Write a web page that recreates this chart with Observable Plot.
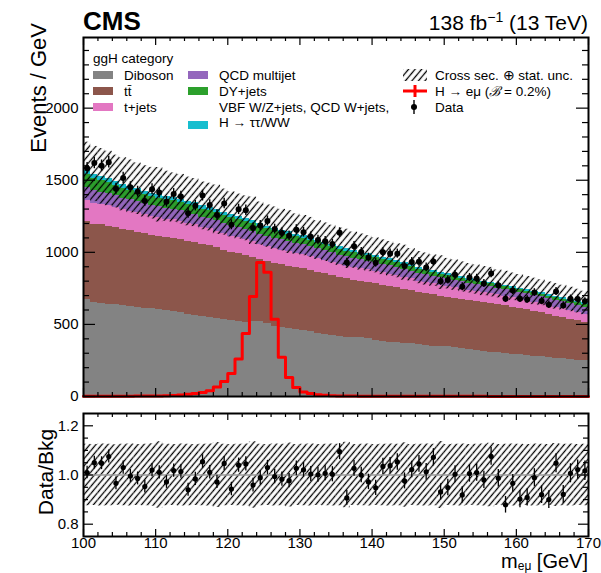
<!DOCTYPE html>
<html><head><meta charset="utf-8">
<script src="https://cdn.jsdelivr.net/npm/d3@7"></script>
<script src="https://cdn.jsdelivr.net/npm/@observablehq/plot@0.6"></script>
<style>
body{margin:0;background:#fff;}
#chart{position:relative;width:601px;height:573px;}
#chart svg{display:block;}
</style></head><body><div id="chart"></div>
<script>
// ---------------- data ----------------
const massBins = [100,101,102,103,104,105,106,107,108,109,110,111,112,113,114,115,116,117,118,119,
  120,121,122,123,124,125,126,127,128,129,130,131,132,133,134,135,136,137,138,139,
  140,141,142,143,144,145,146,147,148,149,150,151,152,153,154,155,156,157,158,159,
  160,161,162,163,164,165,166,167,168,169];
const binWidth = 1;
const diboson = [671,655,645,640,636,632,625,618,612,612, 600,596,588,582,572,562,555,548,540,532,
  524,522,516,518,520,505,486,478,470,462, 455,448,438,430,422,415,412,410,406,402,
  388,384,378,374,370,366,360,354,350,348, 344,338,330,324,316,312,308,302,298,292,
  290,285,280,275,270,266,262,256,250,247];
const ttbar = [541,540,545,540,534,525,525,522,516,508, 512,509,510,506,506,508,498,497,490,483,
  476,468,462,447,430,430,439,437,435,433, 430,427,424,420,416,410,403,398,394,390,
  394,388,387,381,375,369,360,358,355,347, 346,344,342,341,342,338,337,334,330,328,
  322,315,310,305,298,290,286,279,275,265];
const tjets = [146,144,141,142,138,137,134,133,131,129, 128,126,127,123,121,120,118,117,114,113,
  112,110,109,108,106,104,103,101,100,99, 98,97,95,94,93,92,90,90,88,87,
  86,85,84,83,82,80,79,79,77,76, 76,75,74,73,72,71,70,69,68,67,
  66,65,64,64,63,62,61,60,59,58];
const qcd = [92,90,87,85,83,81,80,78,77,76, 75,75,74,76,74,75,73,74,75,74,
  74,73,74,72,71,72,70,70,69,68, 68,67,67,66,65,64,63,62,61,60,
  60,59,58,57,56,55,54,53,52,51, 50,50,49,48,48,47,47,46,46,45,
  45,46,46,47,47,48,48,49,49,50];
const dyjets = [90,86,82,78,74,71,68,65,63,61, 60,59,58,58,57,57,56,56,55,55,
  55,54,54,53,52,51,50,49,48,47, 47,46,44,43,42,41,40,39,38,37,
  36,35,34,32,31,30,28,27,26,25, 24,23,22,22,21,20,20,19,19,18,
  18,18,18,18,18,18,18,18,18,18];
const otherBkg = [28,28,27,27,26,26,25,25,24,24, 24,24,23,23,23,23,22,22,22,22,
  22,21,21,21,20,20,20,19,19,18, 18,18,17,17,17,16,16,16,15,15,
  15,15,14,14,14,13,13,13,13,12, 12,12,12,12,12,12,11,11,11,11,
  11,11,11,11,11,11,11,11,11,11];
const signal = [1,1,1,1,2,2,2,3,3,4, 4,5,7,10,15,21,28,40,66,104,
  160,260,437,694,930,862,535,272,132,62, 32,20,12,8,6,4,3,3,2,2,
  2,2,1,1,1,1,1,1,1,1, 1,1,1,1,1,1,0,0,0,0,
  0,0,0,0,0,0,0,0,0,0];
const dataRatio = [1.010,1.050,1.048,1.075,0.966,1.030,0.996,0.986,0.953,1.020,
  1.011,0.972,1.018,1.014,0.940,0.984,1.054,1.011,0.972,1.047,
  0.943,1.040,1.045,0.959,0.989,1.030,0.994,0.983,0.977,1.027,
  1.021,1.004,1.001,1.007,1.003,1.095,0.907,1.027,1.000,0.972,
  0.948,1.035,1.038,1.053,0.976,1.022,1.045,1.013,1.072,0.931,
  0.949,1.003,0.919,1.006,1.010,0.980,1.076,0.987,0.879,0.966,
  0.902,0.909,0.989,0.920,0.900,1.048,0.921,1.007,1.022,1.017];
const relUnc = [0.125,0.124,0.126,0.125,0.123,0.125,0.126,0.124,0.125,0.127,
  0.135,0.125,0.124,0.126,0.125,0.124,0.125,0.126,0.132,0.125,
  0.124,0.125,0.126,0.135,0.125,0.124,0.126,0.125,0.130,0.124,
  0.125,0.126,0.124,0.125,0.126,0.125,0.133,0.124,0.125,0.126,
  0.124,0.125,0.126,0.125,0.131,0.124,0.125,0.126,0.125,0.136,
  0.124,0.125,0.126,0.124,0.125,0.126,0.129,0.124,0.125,0.126,
  0.125,0.124,0.126,0.125,0.124,0.128,0.125,0.126,0.124,0.125];
const compKeys = ["Diboson","tt̄","t+jets","QCD multijet","DY+jets","Other"];
const compColors = ["#838383","#8c564b","#e377c2","#9467bd","#2ca02c","#17becf"];
const xMajor = [100,110,120,130,140,150,160,170];
const yMajor = [0,500,1000,1500,2000];
const rMajor = [0.8,1.0,1.2];

// ---------------- derived tables ----------------
const compValues = [diboson, ttbar, tjets, qcd, dyjets, otherBkg];
const stackRows = [], bandRows = [], dataRows = [], ratioRows = [], ratioBand = [];
const total = massBins.map((lo, i) => {
  let acc = 0;
  compValues.forEach((vals, k) => {
    stackRows.push({x1: lo, x2: lo + binWidth, y1: acc, y2: acc + vals[i], comp: compKeys[k]});
    acc += vals[i];
  });
  return acc;
});
massBins.forEach((lo, i) => {
  const t = total[i], u = relUnc[i];
  bandRows.push({x1: lo, x2: lo + binWidth, y1: t * (1 - u), y2: t * (1 + u)});
  ratioBand.push({x1: lo, x2: lo + binWidth, y1: 1 - u, y2: 1 + u});
  const n = t * dataRatio[i], e = Math.sqrt(n);
  dataRows.push({x: lo + binWidth / 2, y: n, lo: n - e, hi: n + e});
  ratioRows.push({x: lo + binWidth / 2, y: dataRatio[i], lo: (n - e) / t, hi: (n + e) / t});
});
const sigPts = massBins.map((lo, i) => ({x: lo, y: signal[i]}));
sigPts.push({x: massBins[massBins.length - 1] + binWidth, y: signal[signal.length - 1]});
const xMinor = d3.range(100, 171, 2).filter(v => !xMajor.includes(v));
const yMinor = d3.range(0, 2491, 100).filter(v => !yMajor.includes(v));
const rMinor = [0.8, 0.85, 0.9, 0.95, 1.05, 1.1, 1.15, 1.2].filter(v => !rMajor.includes(v));

// ---------------- layout ----------------
const FONT = "'Liberation Sans', Arial, Helvetica, sans-serif";
const W = 601, ML = 83, MR = 13;
const FW = W - ML - MR;
const mainH = 405, mainTop = 37, mainBottom = 9, FH = mainH - mainTop - mainBottom;
const ratH = 168, ratTop = 8, ratBottom = 37, RH = ratH - ratTop - ratBottom;

function frameTicks(xMaj, xMin, yMaj, yMin, fh, xl, xs, yl, ys) {
  const st = {stroke: "black", strokeWidth: 1.2};
  return [
    Plot.tickX(xMaj, {x: d => d, insetTop: fh - xl, ...st}),
    Plot.tickX(xMaj, {x: d => d, insetBottom: fh - xl, ...st}),
    Plot.tickX(xMin, {x: d => d, insetTop: fh - xs, ...st}),
    Plot.tickX(xMin, {x: d => d, insetBottom: fh - xs, ...st}),
    Plot.tickY(yMaj, {y: d => d, insetRight: FW - yl, ...st}),
    Plot.tickY(yMaj, {y: d => d, insetLeft: FW - yl, ...st}),
    Plot.tickY(yMin, {y: d => d, insetRight: FW - ys, ...st}),
    Plot.tickY(yMin, {y: d => d, insetLeft: FW - ys, ...st})
  ];
}

const mainPlot = Plot.plot({
  width: W, height: mainH, marginTop: mainTop, marginBottom: mainBottom, marginLeft: ML, marginRight: MR,
  style: {fontFamily: FONT, fontSize: "15px", color: "#000", background: "#fff", overflow: "visible"},
  x: {domain: [100, 170], axis: null},
  y: {domain: [0, 2490], ticks: yMajor, tickSize: 0, tickPadding: 5, label: null, tickFormat: d => String(d)},
  color: {domain: compKeys, range: compColors},
  marks: [
    Plot.rect(stackRows, {x1: "x1", x2: "x2", y1: "y1", y2: "y2", fill: "comp", shapeRendering: "crispEdges"}),
    Plot.rect(bandRows, {x1: "x1", x2: "x2", y1: "y1", y2: "y2", fill: "url(#hatchMain)"}),
    Plot.line(sigPts, {x: "x", y: "y", curve: "step-after", stroke: "#ff0000", strokeWidth: 3}),
    Plot.ruleX(dataRows, {x: "x", y1: "lo", y2: "hi", stroke: "black", strokeWidth: 1.4}),
    Plot.dot(dataRows, {x: "x", y: "y", r: 3, fill: "black"}),
    ...frameTicks(xMajor, xMinor, yMajor, yMinor, FH, 8, 4, 12, 6),
    Plot.frame({stroke: "black", strokeWidth: 2})
  ]
});

const ratioPlot = Plot.plot({
  width: W, height: ratH, marginTop: ratTop, marginBottom: ratBottom, marginLeft: ML, marginRight: MR,
  style: {fontFamily: FONT, fontSize: "15px", color: "#000", background: "#fff", overflow: "visible"},
  x: {domain: [100, 170], ticks: xMajor, tickSize: 0, tickPadding: 1, label: null, tickFormat: d => String(d)},
  y: {domain: [0.75, 1.25], ticks: rMajor, tickSize: 0, tickPadding: 5, label: null, tickFormat: d => d.toFixed(1)},
  marks: [
    Plot.rect(ratioBand, {x1: "x1", x2: "x2", y1: "y1", y2: "y2", fill: "url(#hatchRatio)"}),
    Plot.ruleY([1], {stroke: "#999", strokeWidth: 1.5}),
    Plot.ruleX(ratioRows, {x: "x", y1: "lo", y2: "hi", stroke: "black", strokeWidth: 1.3}),
    Plot.dot(ratioRows, {x: "x", y: "y", r: 2.6, fill: "black"}),
    ...frameTicks(xMajor, xMinor, rMajor, rMinor, RH, 7, 4, 10, 5),
    Plot.frame({stroke: "black", strokeWidth: 2})
  ]
});

function addHatch(svg, id, spacing, lw) {
  const defs = d3.select(svg).insert("defs", ":first-child");
  const p = defs.append("pattern").attr("id", id).attr("patternUnits", "userSpaceOnUse")
    .attr("width", spacing).attr("height", spacing).attr("patternTransform", "rotate(40)");
  p.append("line").attr("x1", spacing / 2).attr("y1", -1).attr("x2", spacing / 2).attr("y2", spacing + 1)
    .attr("stroke", "black").attr("stroke-width", lw);
}
addHatch(mainPlot, "hatchMain", 5, 1.3);
addHatch(ratioPlot, "hatchRatio", 4.6, 1.3);

// ---------------- annotations ----------------
const ms = d3.select(mainPlot);
const ann = ms.append("g").attr("font-family", FONT).attr("fill", "black");
ann.append("text").attr("x", 83).attr("y", 30).attr("font-size", 26).attr("font-weight", "bold")
  .attr("text-anchor", "start").text("CMS");
const lumi = ann.append("text").attr("x", 588).attr("y", 30).attr("font-size", 21).attr("text-anchor", "end");
lumi.append("tspan").text("138 fb");
lumi.append("tspan").attr("font-size", 14).attr("dy", -8).text("−1");
lumi.append("tspan").attr("dy", 8).text(" (13 TeV)");
ann.append("text").attr("transform", "translate(46,23) rotate(-90)").attr("font-size", 22)
  .attr("text-anchor", "end").text("Events / GeV");

// legend
const lg = ann.append("g").attr("font-size", 13.5).attr("text-anchor", "start");
lg.append("text").attr("x", 93).attr("y", 63).text("ggH category");
const legendEntries = [
  {col: 0, row: 0, k: 0, label: ["Diboson"]},
  {col: 0, row: 1, k: 1, label: ["tt̄"]},
  {col: 0, row: 2, k: 2, label: ["t+jets"]},
  {col: 1, row: 0, k: 3, label: ["QCD multijet"]},
  {col: 1, row: 1, k: 4, label: ["DY+jets"]},
  {col: 1, row: 2, k: 5, label: ["VBF W/Z+jets, QCD W+jets,", "H → ττ/WW"]}
];
const colX = [93, 188], rowY = [75, 91, 107];
legendEntries.forEach(e => {
  const bx = colX[e.col], cy = rowY[e.row];
  const boxY = e.label.length > 1 ? cy + 18 : cy;
  lg.append("rect").attr("x", bx).attr("y", boxY - 4).attr("width", 20).attr("height", 8).attr("fill", compColors[e.k]);
  e.label.forEach((t, j) => {
    lg.append("text").attr("x", bx + 31).attr("y", cy + 5 + j * 15).text(t);
  });
});
lg.append("rect").attr("x", 403).attr("y", 69).attr("width", 24).attr("height", 12).attr("fill", "url(#hatchMain)");
lg.append("text").attr("x", 435).attr("y", 80).text("Cross sec. ⊕ stat. unc.");
lg.append("line").attr("x1", 403).attr("x2", 427).attr("y1", 91).attr("y2", 91).attr("stroke", "#ff0000").attr("stroke-width", 3);
lg.append("line").attr("x1", 415).attr("x2", 415).attr("y1", 85).attr("y2", 97).attr("stroke", "#ff0000").attr("stroke-width", 3);
const sl = lg.append("text").attr("x", 435).attr("y", 96);
sl.append("tspan").text("H → eμ (");
sl.append("tspan").attr("font-style", "italic").text("ℬ");
sl.append("tspan").text(" = 0.2%)");
lg.append("line").attr("x1", 414).attr("x2", 414).attr("y1", 100).attr("y2", 114).attr("stroke", "black").attr("stroke-width", 1.4);
lg.append("circle").attr("cx", 414).attr("cy", 107).attr("r", 3).attr("fill", "black");
lg.append("text").attr("x", 435).attr("y", 112).text("Data");

const rs = d3.select(ratioPlot);
const ann2 = rs.append("g").attr("font-family", FONT).attr("fill", "black");
ann2.append("text").attr("transform", "translate(53,67) rotate(-90)").attr("font-size", 21)
  .attr("text-anchor", "middle").text("Data/Bkg");
const xt = ann2.append("text").attr("x", 588).attr("y", 163).attr("font-size", 20).attr("text-anchor", "end");
xt.append("tspan").text("m");
xt.append("tspan").attr("font-size", 12).attr("dy", 2).text("eμ");
xt.append("tspan").attr("dy", -2).text(" [GeV]");

const chart = document.getElementById("chart");
chart.appendChild(mainPlot);
chart.appendChild(ratioPlot);
</script>
</body></html>
